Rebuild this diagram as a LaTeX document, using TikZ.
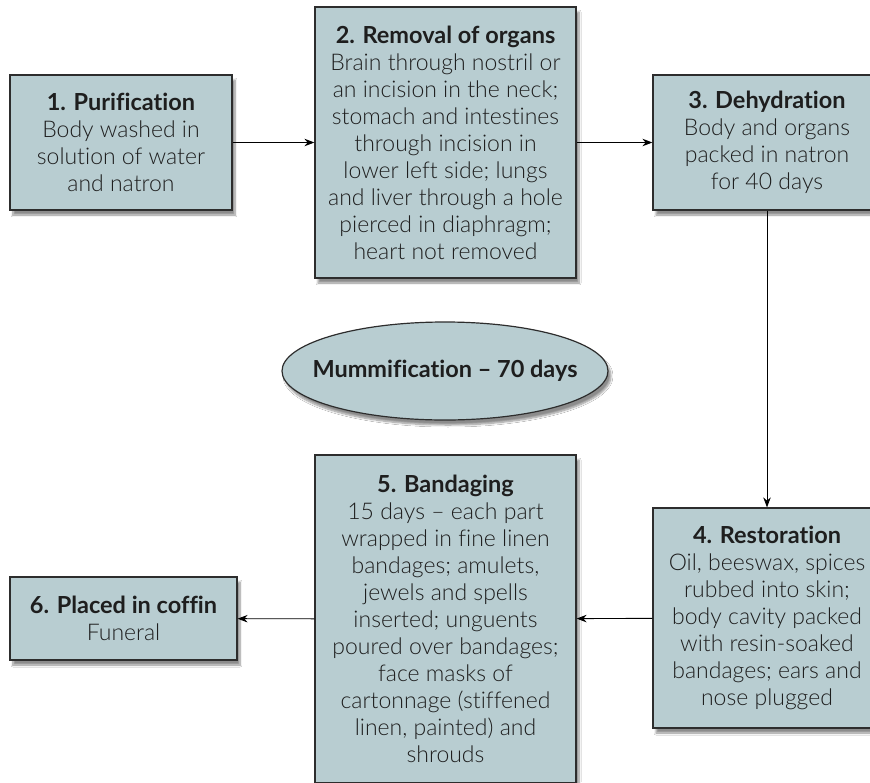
\documentclass[tikz,border=0pt]{standalone}
\usepackage{fontspec}
\setmainfont{Lato}[UprightFont={Lato Light}, BoldFont={Lato Bold}, Ligatures=NoCommon]
\usetikzlibrary{arrows.meta,shapes.geometric,shadows.blur}
\definecolor{boxfill}{RGB}{184,205,209}
\definecolor{boxline}{RGB}{45,45,45}
\definecolor{txt}{RGB}{30,30,30}
\newcommand{\hd}[1]{{\fontsize{23.5}{27}\selectfont\bfseries #1}}
\tikzset{
  stage/.style={draw=boxline, line width=1.2pt, fill=boxfill, rectangle,
    align=center, text=txt, inner sep=0pt,
    font=\fontsize{23}{27}\selectfont,
    blur shadow={shadow xshift=3pt, shadow yshift=-5pt, shadow blur steps=8, shadow opacity=45}},
  flow/.style={draw=black, line width=0.9pt, -{Stealth[length=10pt,width=7.5pt]}}
}
\begin{document}
\begin{tikzpicture}[x=1pt,y=-1pt]
\useasboundingbox[fill=white] (0,0) rectangle (870,782);

\node[stage, minimum width=222pt, minimum height=135pt] (purify) at (121,142.5)
  {\hd{1. Purification}\\Body washed in\\solution of water\\and natron};

\node[stage, minimum width=261pt, minimum height=271pt] (organs) at (445.5,142.5)
  {\hd{2. Removal of organs}\\Brain through nostril or\\an incision in the neck;\\stomach and intestines\\through incision in\\lower left side; lungs\\and liver through a hole\\pierced in diaphragm;\\heart not removed};

\node[stage, minimum width=228pt, minimum height=135pt] (dehyd) at (767,142.5)
  {\hd{3. Dehydration}\\Body and organs\\packed in natron\\for 40 days};

\node[stage, minimum width=228pt, minimum height=220pt] (restore) at (767,618)
  {\hd{4. Restoration}\\Oil, beeswax, spices\\rubbed into skin;\\body cavity packed\\with resin-soaked\\bandages; ears and\\nose plugged};

\node[stage, minimum width=261pt, minimum height=328pt] (bandage) at (445.5,619)
  {\hd{5. Bandaging}\\15 days -- each part\\wrapped in fine linen\\bandages; amulets,\\jewels and spells\\inserted; unguents\\poured over bandages;\\face masks of\\cartonnage (stiffened\\linen, painted) and\\shrouds};

\node[stage, minimum width=227pt, minimum height=83pt] (coffin) at (123.5,618.5)
  {\hd{6. Placed in coffin}\\Funeral};

% central ellipse, sized independently of its caption
\node[stage, ellipse, minimum width=326pt, minimum height=98pt] (total) at (445,371) {};
\node[text=txt] (totallabel) at (total.center) {\hd{Mummification -- 70 days}};

\draw[flow] (purify) -- (organs);
\draw[flow] (organs) -- (dehyd);
\draw[flow] (dehyd) -- (restore);
\draw[flow] (restore) -- (bandage);
\draw[flow] (bandage) -- (coffin);
\end{tikzpicture}
\end{document}
